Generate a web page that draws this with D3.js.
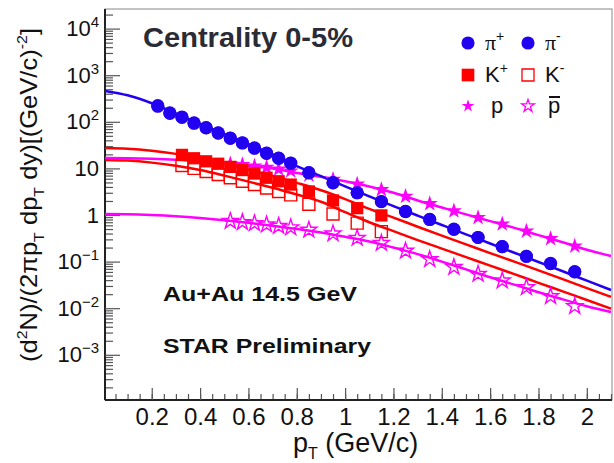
<!DOCTYPE html>
<html lang="en">
<head>
	<meta charset="UTF-8">
	<title>Au+Au 14.5 GeV spectra</title>
	<style>
		html, body {width: 100%; height: 100%; padding: 0; margin: 0; background: #fff;}
		svg {display: block; font-family: 'Liberation Sans', Arial, sans-serif;}
		.fit {fill: none; stroke-width: 2.5px;}
		.tick line {stroke: #555; stroke-width: 1.2px;}
		.domain {stroke: #222; stroke-width: 2px;}
	</style>
	<script src="https://d3js.org/d3.v7.min.js"></script>
</head>
<body>

<!-- values -->
<script>
	// pions, pT bin centres (GeV/c) and yields
	var piPt = [0.225, 0.275, 0.325, 0.375, 0.425, 0.475, 0.525, 0.575, 0.625, 0.675, 0.725, 0.775,
		0.85, 0.95, 1.05, 1.15, 1.25, 1.35, 1.45, 1.55, 1.65, 1.75, 1.85, 1.95];
	var piPlus = [215, 152, 124, 93, 74, 57, 44, 35, 27, 21, 16.5, 12.9,
		8.0, 4.9, 3.0, 1.93, 1.18, 0.81, 0.49, 0.33, 0.21, 0.13, 0.092, 0.061];
	var piMinus = [222, 156, 127, 95, 75, 58, 45, 35.5, 27.5, 21.3, 16.7, 13.0,
		8.1, 4.95, 3.0, 1.95, 1.2, 0.8, 0.5, 0.33, 0.21, 0.13, 0.09, 0.06];

	// kaons
	var kPt = [0.325, 0.375, 0.425, 0.475, 0.525, 0.575, 0.625, 0.675, 0.725, 0.775, 0.85, 0.95, 1.05, 1.15];
	var kPlus = [19.5, 16.5, 14.2, 12.6, 10.8, 9.2, 7.8, 6.3, 5.3, 4.5, 3.2, 2.05, 1.4, 0.98];
	var kMinus = [11.5, 10, 8.6, 7.4, 6.3, 5.3, 4.5, 3.8, 3.2, 2.7, 1.7, 1.05, 0.67, 0.44];

	// protons
	var pPt = [0.525, 0.575, 0.625, 0.675, 0.725, 0.775, 0.85, 0.95, 1.05, 1.15, 1.25, 1.35, 1.45, 1.55, 1.65, 1.75, 1.85, 1.95];
	var proton = [12.5, 12, 11.2, 10.5, 9.6, 8.8, 7.2, 5.8, 4.6, 3.5, 2.5, 1.75, 1.22, 0.88, 0.64, 0.45, 0.31, 0.215];
	var antiProton = [0.74, 0.70, 0.66, 0.62, 0.58, 0.54, 0.48, 0.40, 0.32, 0.25, 0.17, 0.112, 0.076, 0.054, 0.039, 0.028, 0.018, 0.011];

	// fit curves
	var fitPt = [0.007, 0.1, 0.2, 0.3, 0.4, 0.5, 0.6, 0.7, 0.8, 0.9, 1.0, 1.1, 1.2, 1.3, 1.4, 1.5, 1.6, 1.7, 1.8, 1.9, 2.0, 2.1];
	var fitPi = [460, 370, 250, 150, 90, 55, 33, 20, 11.2, 6.8, 4.1, 2.5, 1.55, 0.97, 0.61, 0.385, 0.245, 0.155, 0.098, 0.062, 0.039, 0.0246];
	var fitKPlus = [27.4, 26.5, 24, 20.5, 16.4, 12.6, 9.4, 6.9, 4.9, 3.4, 2.2, 1.35, 0.88, 0.56, 0.36, 0.235, 0.152, 0.1, 0.065, 0.042, 0.027, 0.0175];
	var fitKMinus = [15.2, 14.7, 13.3, 11.4, 9.2, 7.0, 5.2, 3.85, 2.75, 1.92, 1.15, 0.7, 0.45, 0.29, 0.19, 0.125, 0.082, 0.054, 0.035, 0.023, 0.015, 0.0098];
	var fitP = [16.7, 16.6, 16.2, 15.4, 14.2, 12.8, 11.4, 9.9, 8.0, 6.6, 5.3, 4.1, 3.0, 2.05, 1.45, 1.03, 0.74, 0.53, 0.37, 0.26, 0.18, 0.132];
	var fitPbar = [1.05, 1.04, 1.0, 0.94, 0.86, 0.77, 0.68, 0.59, 0.5, 0.42, 0.34, 0.27, 0.2, 0.145, 0.1, 0.068, 0.046, 0.032, 0.022, 0.0155, 0.011, 0.0083];

	// axis ticks
	var xTicks = [0.2, 0.4, 0.6, 0.8, 1, 1.2, 1.4, 1.6, 1.8, 2];
	var xLabels = ['0.2', '0.4', '0.6', '0.8', '1', '1.2', '1.4', '1.6', '1.8', '2'];
	var yExponents = [-3, -2, -1, 0, 1, 2, 3, 4];
</script>

<script>
	var width = 614, height = 463;
	var frame = {left: 105, top: 9, right: 612, bottom: 400};
	var blue = '#2200f0', red = '#ff0000', magenta = '#ff00ff';

	var svg = d3.select('body').append('svg')
		.attr('width', width)
		.attr('height', height);

	var x = d3.scaleLinear().domain([0, 2.1]).range([103.4, 611]);
	var y = d3.scaleLog().domain([1e-4, 1e4]).range([401.4, 28.6]);

	svg.append('defs').append('clipPath').attr('id', 'plot')
		.append('rect')
		.attr('x', frame.left).attr('y', frame.top)
		.attr('width', frame.right - frame.left).attr('height', frame.bottom - frame.top);

	// frame
	svg.append('rect')
		.attr('x', frame.left).attr('y', frame.top)
		.attr('width', frame.right - frame.left).attr('height', frame.bottom - frame.top)
		.attr('fill', 'none').attr('stroke', '#888').attr('stroke-width', 1);

	// x axis: minor then major ticks, pointing into the plot
	var minorX = d3.range(1, 43).map(function (i) { return i * 0.05; });
	svg.append('g')
		.attr('transform', 'translate(0,' + frame.bottom + ')')
		.call(d3.axisBottom(x).tickValues(minorX).tickSize(-6).tickSizeOuter(0).tickFormat(''))
		.select('.domain').remove();
	var xAxis = svg.append('g')
		.attr('transform', 'translate(0,' + frame.bottom + ')')
		.call(d3.axisBottom(x).tickValues(xTicks).tickSize(-12).tickSizeOuter(0)
			.tickFormat(function (d, i) { return xLabels[i]; }));
	xAxis.select('.domain').attr('d', 'M' + frame.left + ',0H' + frame.right);
	xAxis.selectAll('text')
		.attr('y', 25).attr('dy', 0)
		.attr('font-size', 24).attr('font-family', 'Liberation Sans, Arial, sans-serif')
		.attr('fill', '#111');

	// y axis
	var minorY = [];
	yExponents.concat([-4]).forEach(function (e) {
		for (var m = 2; m <= 9; m++) minorY.push(m * Math.pow(10, e));
	});
	minorY = minorY.filter(function (v) { return y(v) < frame.bottom && y(v) > frame.top; });
	svg.append('g')
		.attr('transform', 'translate(' + frame.left + ',0)')
		.call(d3.axisLeft(y).tickValues(minorY).tickSize(-8).tickSizeOuter(0).tickFormat(''))
		.select('.domain').remove();
	var yAxis = svg.append('g')
		.attr('transform', 'translate(' + frame.left + ',0)')
		.call(d3.axisLeft(y).tickValues(yExponents.map(function (e) { return Math.pow(10, e); }))
			.tickSize(-15).tickSizeOuter(0).tickPadding(6));
	yAxis.select('.domain').attr('d', 'M0,' + frame.top + 'V' + frame.bottom);
	yAxis.selectAll('text').each(function (d) {
		var e = Math.round(Math.log10(d));
		var t = d3.select(this).text(null)
			.attr('dy', 7).attr('x', -6)
			.attr('font-size', 22).attr('font-family', 'Liberation Sans, Arial, sans-serif')
			.attr('fill', '#111');
		if (e === 0) { t.text('1'); return; }
		if (e === 1) { t.text('10'); return; }
		t.append('tspan').text('10');
		t.append('tspan').attr('dy', -9).attr('font-size', 15).text(e < 0 ? '\u2212' + (-e) : e);
	});

	// fit curves
	var line = d3.line()
		.x(function (d) { return x(d[0]); })
		.y(function (d) { return y(d[1]); })
		.curve(d3.curveMonotoneX);
	var fits = [
		{vals: fitPbar, color: magenta},
		{vals: fitKMinus, color: red},
		{vals: fitKPlus, color: red},
		{vals: fitP, color: magenta},
		{vals: fitPi, color: blue}
	];
	var plot = svg.append('g').attr('clip-path', 'url(#plot)');
	plot.selectAll('.fit')
		.data(fits)
		.enter().append('path')
		.attr('class', 'fit')
		.attr('stroke', function (d) { return d.color; })
		.attr('d', function (d) { return line(fitPt.map(function (p, i) { return [p, d.vals[i]]; })); });

	// data markers
	function markers(pts, vals, type, size, color, filled) {
		var sym = d3.symbol().type(type).size(size);
		plot.append('g').selectAll('path')
			.data(pts.map(function (p, i) { return [p, vals[i]]; }))
			.enter().append('path')
			.attr('transform', function (d) { return 'translate(' + x(d[0]) + ',' + y(d[1]) + ')'; })
			.attr('d', sym)
			.attr('fill', filled ? color : 'none')
			.attr('stroke', color)
			.attr('stroke-width', filled ? 0 : 1.4);
	}
	markers(pPt, antiProton, d3.symbolStar, 80, magenta, false);
	markers(kPt, kMinus, d3.symbolSquare, 144, red, false);
	markers(pPt, proton, d3.symbolStar, 80, magenta, true);
	markers(kPt, kPlus, d3.symbolSquare, 150, red, true);
	markers(piPt, piMinus, d3.symbolCircle, 135, blue, true);
	markers(piPt, piPlus, d3.symbolCircle, 135, blue, true);

	// legend
	var legendRows = [
		{y: 43, a: {type: d3.symbolCircle, size: 135, color: blue, filled: true, label: '\u03c0', sup: '+'},
			b: {type: d3.symbolCircle, size: 135, color: blue, filled: true, label: '\u03c0', sup: '-'}},
		{y: 75, a: {type: d3.symbolSquare, size: 160, color: red, filled: true, label: 'K', sup: '+'},
			b: {type: d3.symbolSquare, size: 144, color: red, filled: false, label: 'K', sup: '-'}},
		{y: 106, a: {type: d3.symbolStar, size: 50, color: magenta, filled: true, label: 'p', sup: ''},
			b: {type: d3.symbolStar, size: 50, color: magenta, filled: false, label: 'p', sup: '', bar: true}}
	];
	legendRows.forEach(function (row) {
		[[row.a, 468], [row.b, 528]].forEach(function (item) {
			var it = item[0], cx = item[1];
			svg.append('path')
				.attr('transform', 'translate(' + cx + ',' + row.y + ')')
				.attr('d', d3.symbol().type(it.type).size(it.size))
				.attr('fill', it.filled ? it.color : 'none')
				.attr('stroke', it.color)
				.attr('stroke-width', it.filled ? 0 : 1.3);
			var tx = cx + (it.sup ? 17 : (it.bar ? 20 : 23));
			var t = svg.append('text')
				.attr('x', tx).attr('y', row.y + 7)
				.attr('font-size', 22).attr('fill', '#111');
			t.append('tspan')
				.attr('font-family', it.label === '\u03c0' ? 'Liberation Serif, serif' : null)
				.text(it.label);
			if (it.sup) t.append('tspan').attr('dy', -9).attr('font-size', 14).text(it.sup);
			if (it.bar) {
				svg.append('line')
					.attr('x1', tx + 1).attr('x2', tx + 12)
					.attr('y1', row.y - 9).attr('y2', row.y - 9)
					.attr('stroke', '#111').attr('stroke-width', 2);
			}
		});
	});

	// annotations
	svg.append('text')
		.attr('x', 143).attr('y', 47)
		.attr('font-size', 27).attr('font-weight', 'bold').attr('fill', '#2b2b36')
		.attr('textLength', 210).attr('lengthAdjust', 'spacingAndGlyphs')
		.text('Centrality 0-5%');
	svg.append('text')
		.attr('x', 163).attr('y', 301)
		.attr('font-size', 21).attr('font-weight', 'bold').attr('fill', '#111')
		.attr('textLength', 194).attr('lengthAdjust', 'spacingAndGlyphs')
		.text('Au+Au 14.5 GeV');
	svg.append('text')
		.attr('x', 163).attr('y', 353)
		.attr('font-size', 21).attr('font-weight', 'bold').attr('fill', '#111')
		.attr('textLength', 208).attr('lengthAdjust', 'spacingAndGlyphs')
		.text('STAR Preliminary');

	// axis titles
	var xt = svg.append('text')
		.attr('x', 293).attr('y', 452)
		.attr('font-size', 27).attr('fill', '#111');
	xt.append('tspan').text('p');
	xt.append('tspan').attr('dy', 7).attr('font-size', 16).text('T');
	xt.append('tspan').attr('dy', -7).text(' (GeV/c)');

	var yt = svg.append('text')
		.attr('transform', 'translate(37,362) rotate(-90)')
		.attr('font-size', 24).attr('fill', '#111')
		.attr('textLength', 334).attr('lengthAdjust', 'spacingAndGlyphs');
	var parts = [['(d', 0], ['2', -1], ['N)/(2\u03c0p', 1], ['T', 2], [' dp', -2], ['T', 2], [' dy)[(GeV/c)', -2], ['-2', -1], [']', 1]];
	parts.forEach(function (p) {
		var s = yt.append('tspan').text(p[0]);
		if (p[1] === -1) s.attr('dy', -10).attr('font-size', 15);
		else if (p[1] === 1) s.attr('dy', 10);
		else if (p[1] === 2) s.attr('dy', 7).attr('font-size', 15);
		else if (p[1] === -2) s.attr('dy', -7);
	});
</script>

</body>
</html>
